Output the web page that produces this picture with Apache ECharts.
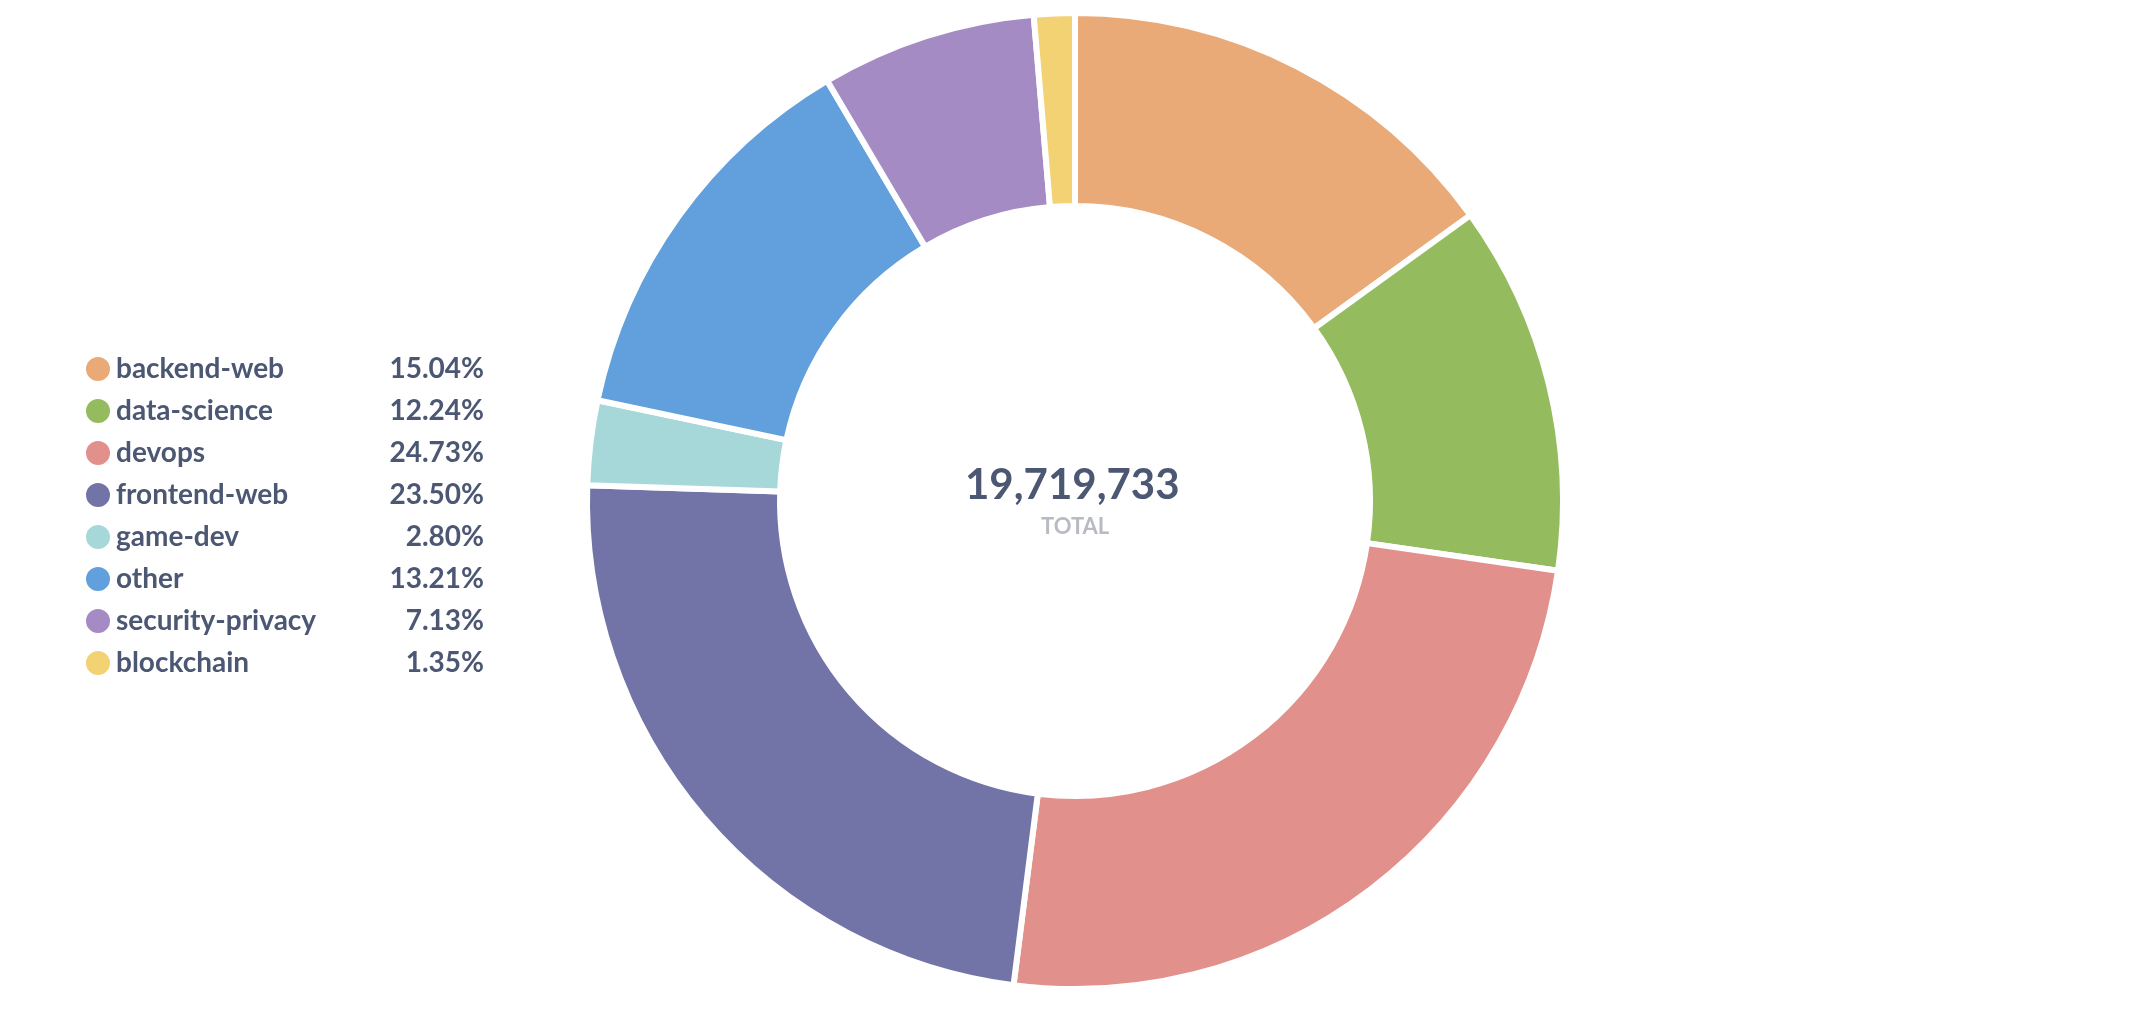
<!DOCTYPE html>
<html><head><meta charset="utf-8">
<script src="https://cdn.jsdelivr.net/npm/echarts@6/dist/echarts.min.js"></script>
<style>html,body{margin:0;padding:0;background:#fff}#c{width:2152px;height:1032px}</style>
</head><body><div id="c"></div>
<script>
const categories = ['backend-web','data-science','devops','frontend-web','game-dev','other','security-privacy','blockchain'];
const percents = [15.04, 12.24, 24.73, 23.50, 2.80, 13.21, 7.13, 1.35];
const colors = ['#E9AA78','#95BB5F','#E1908C','#7274A8','#A7D8D9','#629FDD','#A58BC3','#F3D273'];
const totalLabel = '19,719,733';
const font = 'Lato, "Noto Sans", sans-serif';
const chart = echarts.init(document.getElementById('c'));
chart.setOption({
  animation:false,
  color: colors,
  legend:{
    orient:'vertical', left:79, top:'middle', itemGap:14,
    icon:'circle', itemWidth:26, itemHeight:26,
    formatter: n => '{n|'+n+'}{p|'+percents[categories.indexOf(n)].toFixed(2)+'%}',
    textStyle:{ fontFamily:font, rich:{
      n:{width:258, fontSize:28, fontWeight:'bold', color:'#4C5773', fontFamily:font},
      p:{width:110, align:'right', fontSize:28, fontWeight:'bold', color:'#4C5773', fontFamily:font}
    }}
  },
  graphic:[
    {type:'text', left:'center', top:464, style:{text:totalLabel, x:0, fontSize:42, fontWeight:'bold', fill:'#4C5773', fontFamily:font, textAlign:'center'}, left:1075-110},
    {type:'text', top:516, left:1075-34, style:{text:'TOTAL', fontSize:22, fontWeight:'bold', fill:'#B8BBC3', fontFamily:font}}
  ],
  series:[{
    type:'pie', center:[1075,501], radius:[295,488], startAngle:90, clockwise:true,
    label:{show:false}, labelLine:{show:false},
    itemStyle:{borderColor:'#fff', borderWidth:6},
    emphasis:{disabled:true},
    data: categories.map((c,i)=>({name:c, value:percents[i]}))
  }]
});
</script></body></html>
